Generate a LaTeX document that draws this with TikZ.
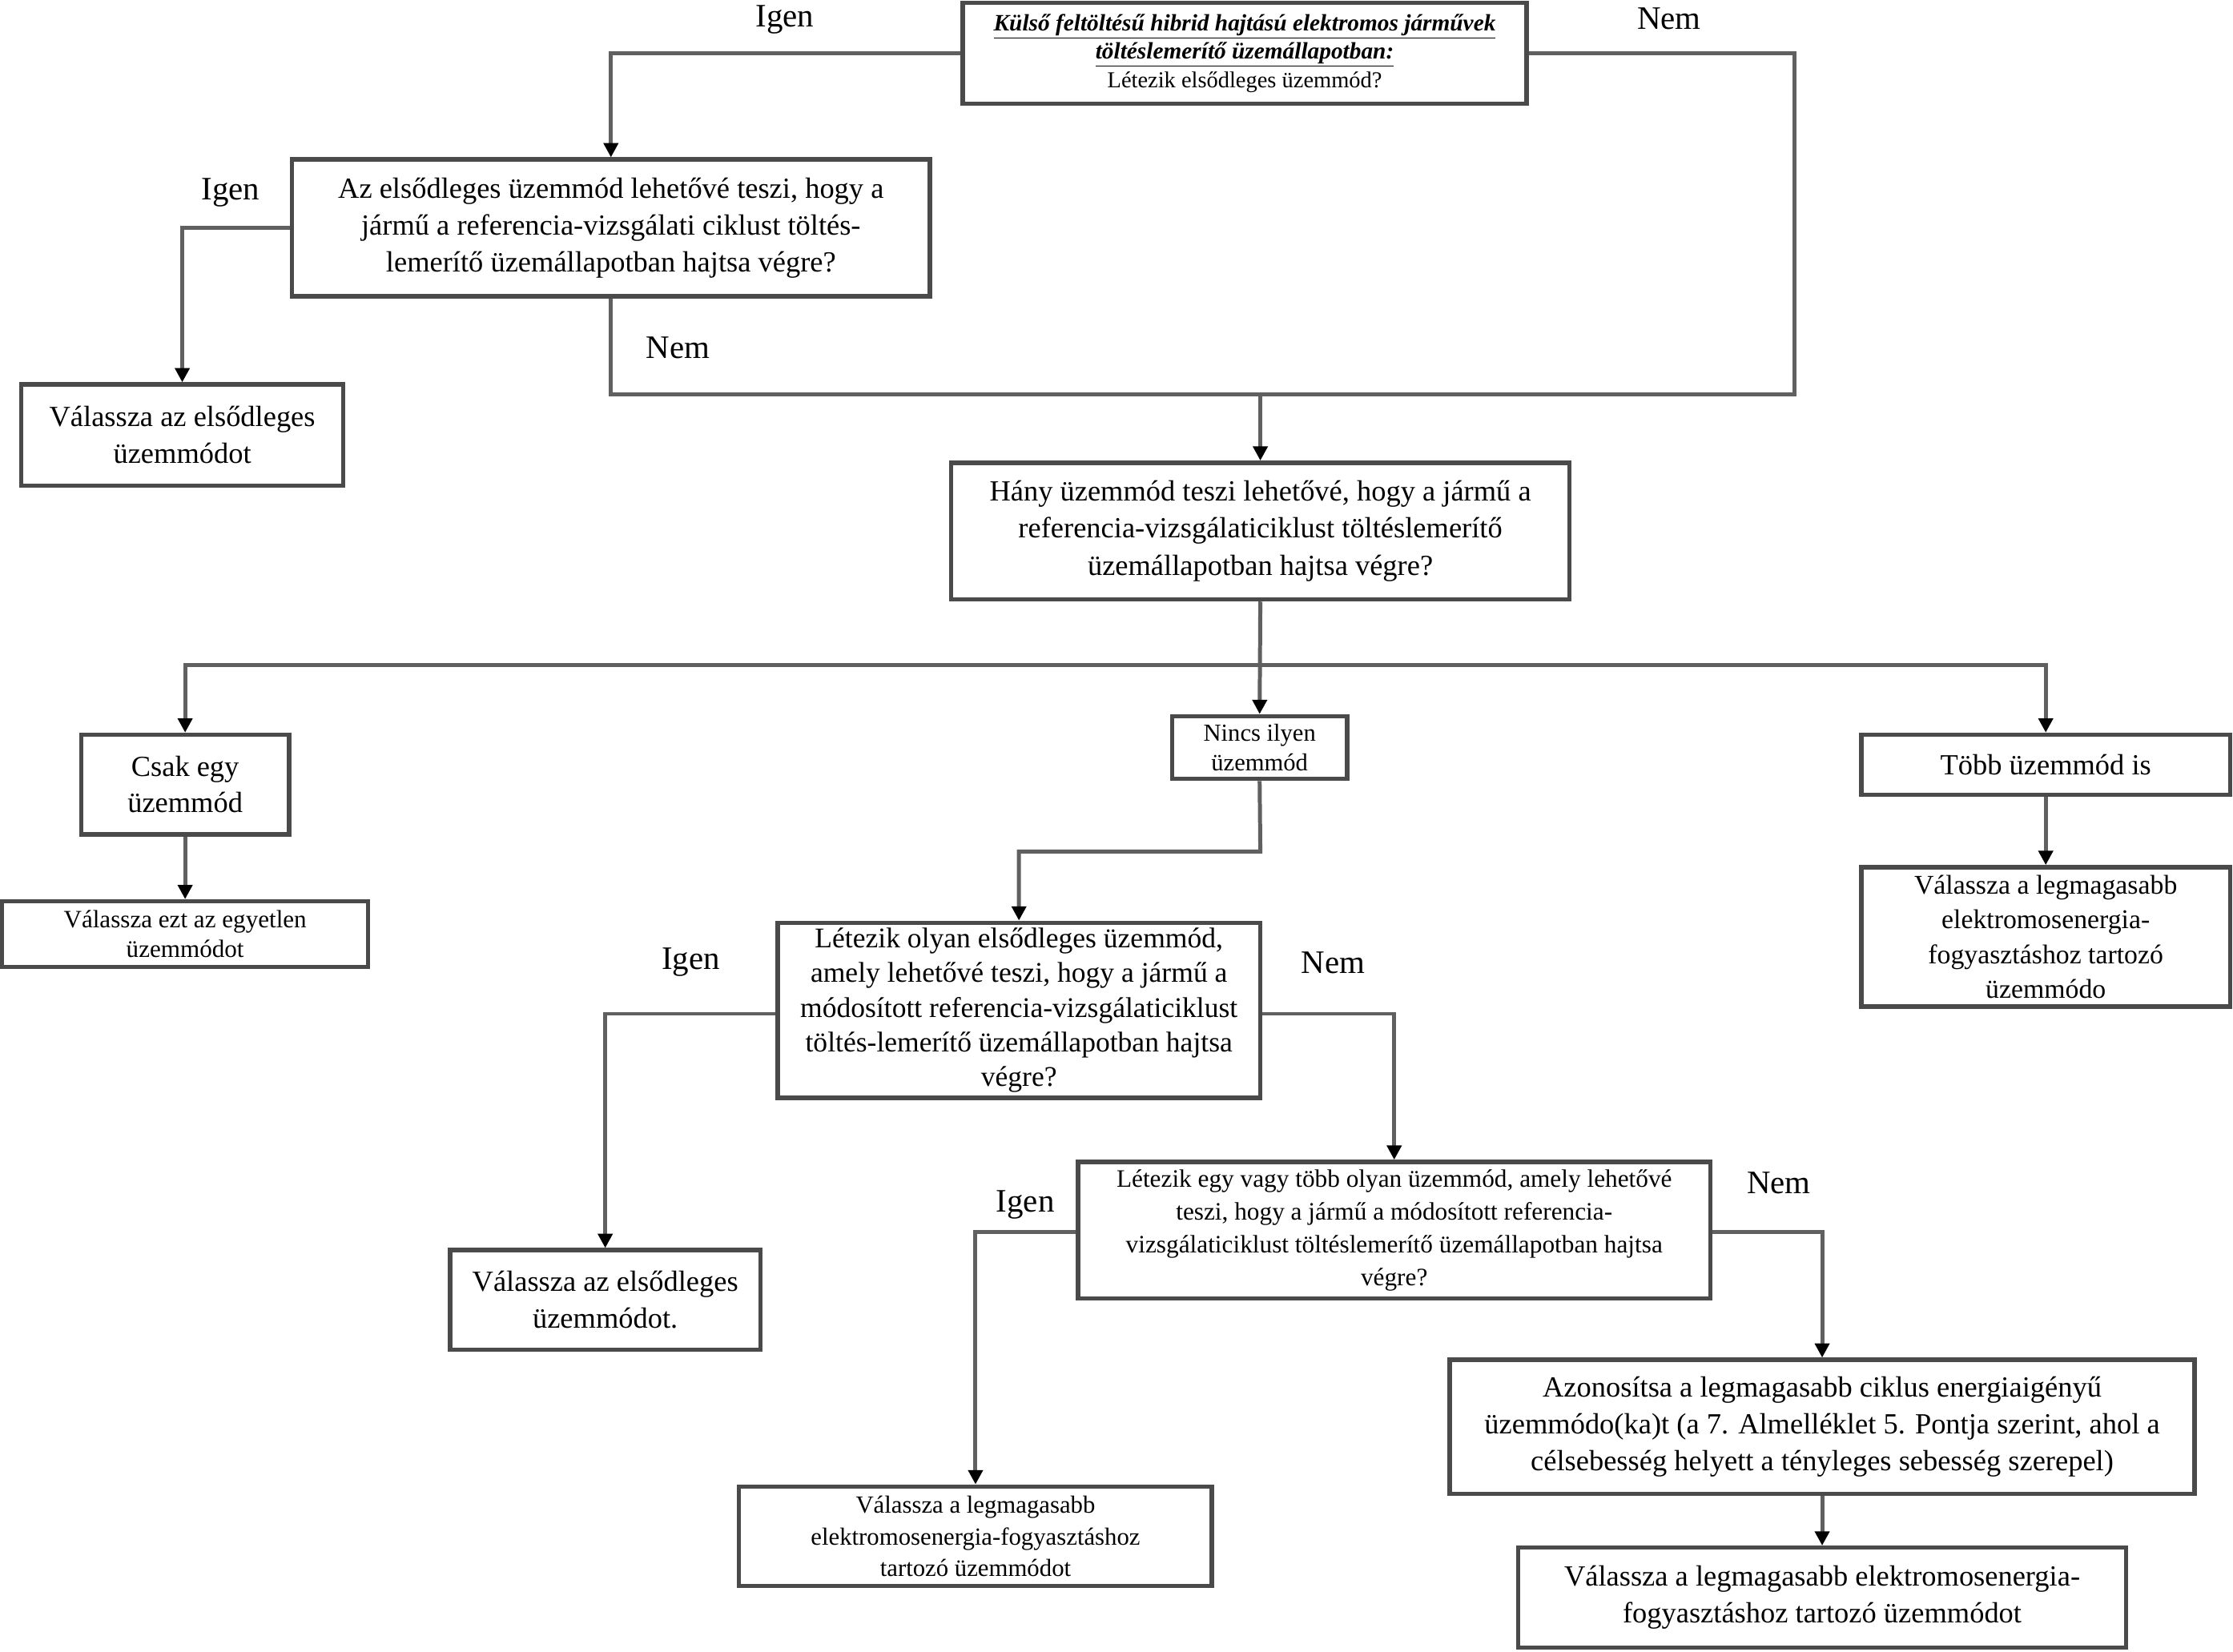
\documentclass[tikz,border=0pt]{standalone}
\usepackage{fontspec}
\setmainfont{Liberation Serif}
\usetikzlibrary{arrows.meta}
\definecolor{bordc}{HTML}{4A4A4A}
\definecolor{connc}{HTML}{606060}
\begin{document}
\begin{tikzpicture}[x=1pt,y=-1pt,
  box/.style={draw=bordc, line width=3pt, fill=white, align=center, inner sep=0pt},
  fmain/.style={font=\fontsize{20.5}{26}\selectfont},
  conn/.style={draw=connc, line width=2.8pt, -{Triangle[width=10pt,length=10pt,color=black]}},
  plain/.style={draw=connc, line width=2.8pt},
  lab/.style={font=\fontsize{23}{26}\selectfont, inner sep=0pt}]
\useasboundingbox (0,0) rectangle (1568,1160.2);

% nodes
\node[box, minimum width=396pt, minimum height=71pt, font=\fontsize{16.5}{20}\selectfont] (top) at (874,37.5)
 {\textbf{\textit{\underline{Külső feltöltésű hibrid hajtású elektromos járművek}}}\\
  \textbf{\textit{\underline{töltéslemerítő üzemállapotban:}}}\\
  {\fontsize{16}{20}\selectfont Létezik elsődleges üzemmód?}};

\node[box, fmain, minimum width=448pt, minimum height=96pt] (b2) at (429,160)
 {Az elsődleges üzemmód lehetővé teszi, hogy a\\ jármű a referencia-vizsgálati ciklust töltés-\\ lemerítő üzemállapotban hajtsa végre?};

\node[box, fmain, minimum width=226pt, minimum height=71pt] (b3) at (128,305.5)
 {Válassza az elsődleges\\ üzemmódot};

\node[box, fmain, minimum width=434pt, minimum height=96pt] (b4) at (885,373)
 {Hány üzemmód teszi lehetővé, hogy a jármű a\\ referencia-vizsgálaticiklust töltéslemerítő\\ üzemállapotban hajtsa végre?};

\node[box, font=\fontsize{20.5}{25}\selectfont, minimum width=146pt, minimum height=70pt] (b5) at (130,551)
 {Csak egy\\ üzemmód};

\node[box, font=\fontsize{17.2}{21}\selectfont, minimum width=123pt, minimum height=44pt] (b6) at (884.5,525)
 {Nincs ilyen\\ üzemmód};

\node[box, fmain, minimum width=259pt, minimum height=42pt] (b7) at (1436.5,537)
 {Több üzemmód is};

\node[box, font=\fontsize{17.5}{21}\selectfont, minimum width=257pt, minimum height=46pt] (b8) at (130,656)
 {Válassza ezt az egyetlen\\ üzemmódot};

\node[box, font=\fontsize{19}{24.5}\selectfont, minimum width=259pt, minimum height=98pt] (b10) at (1436.5,658)
 {Válassza a legmagasabb\\ elektromosenergia-\\ fogyasztáshoz tartozó\\ üzemmódo};

\node[box, font=\fontsize{20}{24.3}\selectfont, minimum width=339pt, minimum height=123pt] (b9) at (715.5,709.5)
 {Létezik olyan elsődleges üzemmód,\\ amely lehetővé teszi, hogy a jármű a\\ módosított referencia-vizsgálaticiklust\\ töltés-lemerítő üzemállapotban hajtsa\\ végre?};

\node[box, fmain, minimum width=218pt, minimum height=70pt] (b11) at (425,913)
 {Válassza az elsődleges\\ üzemmódot.};

\node[box, font=\fontsize{17.6}{23}\selectfont, minimum width=444pt, minimum height=96pt] (b12) at (979,864)
 {Létezik egy vagy több olyan üzemmód, amely lehetővé\\ teszi, hogy a jármű a módosított referencia-\\ vizsgálaticiklust töltéslemerítő üzemállapotban hajtsa\\ végre?};

\node[box, font=\fontsize{17.3}{22}\selectfont, minimum width=332pt, minimum height=70pt] (b13) at (685,1079)
 {Válassza a legmagasabb\\ elektromosenergia-fogyasztáshoz\\ tartozó üzemmódot};

\node[box, fmain, minimum width=523pt, minimum height=94pt] (b14) at (1279.5,1002)
 {Azonosítsa a legmagasabb ciklus energiaigényű\\ üzemmódo(ka)t (a 7. Almelléklet 5. Pontja szerint, ahol a\\ célsebesség helyett a tényleges sebesség szerepel)};

\node[box, fmain, minimum width=427pt, minimum height=70pt] (b15) at (1279.5,1122)
 {Válassza a legmagasabb elektromosenergia-\\ fogyasztáshoz tartozó üzemmódot};

% helper coordinates
\coordinate (c1) at (1260,277);
\coordinate (j) at (885,467);
\coordinate (k) at (885,598);
\coordinate (m9) at (715,712);
\coordinate (m12) at (979,865);

% connectors
\draw[conn] (top.west) -| (b2.north);
\draw[conn] (top.east) -| (c1) -| (b4.north);
\draw[plain] (b2.south) |- (c1);
\draw[conn] (b2.west) -| (b3.north);
\draw[conn] (b4.south) -- (b6.north);
\draw[conn] (j) -| (b5.north);
\draw[conn] (j) -| (b7.north);
\draw[conn] (b5.south) -- (b8.north);
\draw[conn] (b7.south) -- (b10.north);
\draw[conn] (b6.south) -- (k) -| (b9.north);
\draw[conn] (b9.west |- m9) -| (b11.north);
\draw[conn] (b9.east |- m9) -| (b12.north);
\draw[conn] (b12.west |- m12) -| (b13.north);
\draw[conn] (b12.east |- m12) -| (b14.north);
\draw[conn] (b14.south) -- (b15.north);

% labels
\node[lab] (l1) at (551,14) {Igen};
\node[lab] (l2) at (1172,13) {Nem};
\node[lab] (l3) at (162,135) {Igen};
\node[lab] (l4) at (476,244) {Nem};
\node[lab] (l5) at (485,676) {Igen};
\node[lab] (l6) at (936,676) {Nem};
\node[lab] (l7) at (720,846) {Igen};
\node[lab] (l8) at (1249,831) {Nem};
\end{tikzpicture}
\end{document}
